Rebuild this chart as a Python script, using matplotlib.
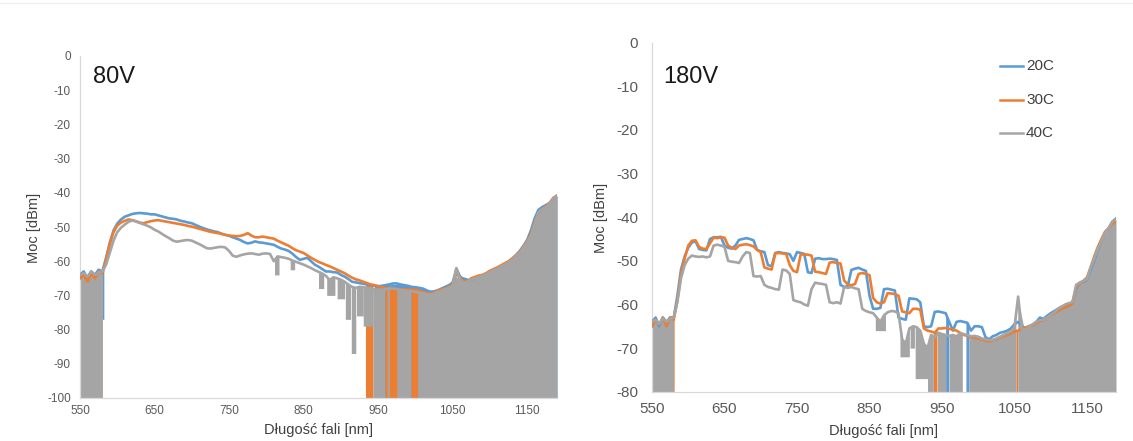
import numpy as np
import matplotlib
matplotlib.use("Agg")
import matplotlib.pyplot as plt
from matplotlib.lines import Line2D

plt.rcParams["font.family"] = ["Liberation Sans", "DejaVu Sans"]
plt.rcParams["axes.unicode_minus"] = False

# ---------------------------------------------------------------- data
# spectrometer sampling grid [nm]
wavelength = np.arange(550, 1191, 5)

temperatures = ["20C", "30C", "40C"]
colors = ["#5B9BD5", "#ED7D31", "#A5A5A5"]

# 80 V: power [dBm] per temperature
p80_20C = [
    -64, -63, -65, -63, -64, -62.5, -63, -59, -54.5, -51,            # 550-595
    -49, -47.8, -47, -46.6, -46.2, -46, -45.9, -46, -46.1, -46.3,    # 600-645
    -46.3, -46.6, -46.9, -47.2, -47.5, -47.6, -47.8, -48.2, -48.4, -48.7,
    -48.9, -49.4, -49.9, -50.3, -50.7, -51, -51.3, -51.5, -52, -52.3,
    -52.6, -53, -53.4, -53.8, -54.4, -54.8, -54.6, -54.2, -54.5, -54.6,
    -54.8, -55, -55.2, -55.8, -56.3, -56.6, -57, -57.8, -58.8, -59.6,
    -59.3, -59, -60, -61, -61.6, -62.3, -63, -63, -63.2, -63.3,
    -64, -64.5, -65.2, -66, -66.2, -66.4, -66.6, -66.8, -67, -67.2,
    -67.3, -67.2, -67, -66.8, -66.5, -66.5, -66.8, -67, -67.2, -67.5,
    -67.6, -67.8, -68, -68.5, -69, -68.8, -68.5, -68, -67.5, -67,
    -66.3, -62.2, -64.5, -65.5, -66, -65.4, -65, -64.6, -64.2, -63.6,
    -63, -62.4, -62, -61.5, -61, -60.3, -59.3, -58.2, -57, -55.5,
    -53.8, -51, -47.5, -45, -44.2, -43.6, -43, -41.8, -40.8,          # 1150-1190
]
p80_30C = [
    -65, -64, -66, -63.5, -65, -63, -63.5, -59.5, -55, -51.5,
    -49.6, -48.7, -48.2, -47.8, -48, -48.3, -48.7, -48.9, -48.6, -48.3,
    -48.1, -48, -48.2, -48.4, -48.6, -48.8, -49, -49.2, -49.4, -49.7,
    -49.9, -50.2, -50.5, -50.8, -51.1, -51.4, -51.6, -51.8, -52, -52.3,
    -52.5, -52.6, -52.7, -52.6, -52.3, -51.8, -52.5, -53, -53, -52.8,
    -53, -53.2, -53.4, -54, -54.5, -55, -55.5, -56.2, -56.8, -57.2,
    -57.6, -58.3, -59, -59.6, -60.2, -60.6, -61.1, -61.5, -62, -62.5,
    -63, -63.5, -64.2, -64.8, -65.3, -65.6, -66, -66.4, -66.8, -67,
    -67.3, -67.6, -67.8, -67.9, -68, -68.1, -68.2, -68.2, -68.3, -68.3,
    -68.4, -68.6, -69, -69.3, -69.5, -69.2, -68.6, -68.2, -68, -67.5,
    -66.8, -63.5, -65, -66, -65.8, -65, -64.6, -64.2, -64, -63.5,
    -62.8, -62.3, -61.8, -61.2, -60.6, -60, -59.2, -58.3, -57.2, -55.8,
    -54.2, -52, -48.5, -46, -44.8, -44, -43, -41.5, -40.8,
]
p80_40C = [
    -64, -63.5, -64.5, -63, -64, -63.3, -63, -61, -57.5, -54,
    -51.5, -50.2, -49.3, -48.5, -48.1, -48.4, -48.8, -49.2, -49.6, -50.1,
    -50.8, -51.3, -52, -52.7, -53.3, -54, -54.3, -54.1, -53.9, -53.8,
    -54, -54.5, -55, -55.6, -56.2, -56.3, -56.1, -55.9, -55.8, -56,
    -57, -58.4, -58.7, -58.3, -58, -57.8, -57.7, -57.9, -58.1, -57.8,
    -57.7, -57.9, -60, -58.6, -58.8, -59, -59.3, -59.8, -60.2, -60.6,
    -61, -61.5, -62, -62.6, -63.1, -63.6, -64.3, -65.5, -64.7, -65,
    -65.4, -66, -66.8, -67.5, -67.8, -67.5, -67.6, -67.8, -68, -68.2,
    -68.3, -68.3, -68.2, -68, -68, -68.2, -68.4, -68.5, -68.7, -68.8,
    -69, -69.2, -69.4, -69.6, -69.8, -69.5, -69, -68.6, -68.2, -67.8,
    -67.2, -62, -65.5, -66.3, -66, -65.4, -65, -64.6, -64.3, -63.8,
    -63.2, -62.6, -62.2, -61.6, -61, -60.4, -59.6, -58.5, -57.5, -56,
    -54.4, -52.5, -49, -45.8, -44.8, -44.2, -43.2, -41.8, -41,
]

# 180 V: power [dBm] per temperature
p180_20C = [
    -64, -63, -65, -63, -64, -63, -63, -58, -52, -49,
    -47, -45.8, -45.5, -47.3, -47.5, -47.6, -45, -44.6, -44.6, -44.5,
    -46.5, -47, -47.2, -46.5, -45.2, -45, -44.8, -45, -45.3, -47.5,
    -47.8, -48, -51, -51.2, -48.2, -48, -48.2, -48.3, -48.5, -50,
    -48, -48.2, -48.4, -52.6, -52.8, -49.5, -49.4, -49.6, -49.6, -49.5,
    -49.6, -49.8, -55.5, -56, -55.8, -52.1, -51.8, -51.6, -52, -52.3,
    -58, -61, -61, -60.8, -56.5, -56.4, -56.6, -56.8, -63, -63.3,
    -63.5, -58.6, -58.7, -58.8, -59.5, -65, -65.2, -65, -61.7, -61.6,
    -61.8, -62, -64, -66, -64, -63.8, -64, -64.2, -66, -65,
    -65, -65.2, -67.5, -68, -67.3, -67, -66.5, -66.3, -66, -65.5,
    -64.5, -64, -65, -65.5, -65, -64.6, -64, -63, -63.3, -62.6,
    -62, -61.5, -61, -60.5, -60.6, -60, -59.5, -56.5, -55, -54.8,
    -54.4, -52, -50, -47.5, -45.5, -43.5, -42.5, -41, -40.3,
]
p180_30C = [
    -65, -63.5, -64.5, -63, -65, -63, -63.5, -59, -53, -49.5,
    -46.5, -45.4, -45.3, -46.8, -47.2, -47.3, -46, -44.7, -44.8, -44.6,
    -44.7, -46.5, -47, -47.3, -46.5, -46.3, -46.2, -46.4, -46.7, -47.5,
    -48, -51.5, -51.8, -52, -48.3, -48.2, -48.3, -48.4, -51, -52.3,
    -52.6, -48.6, -48.5, -48.6, -48.8, -52.5, -52.6, -52.8, -53, -50.4,
    -50.3, -50.5, -50.6, -54.5, -55.4, -55.6, -55.3, -53, -52.8, -53,
    -53.3, -58.5, -59.5, -59.8, -59.5, -57.4, -57.5, -57.6, -58, -61.6,
    -61.8, -62, -61, -61, -61.2, -65.5, -66, -66.2, -66.5, -65.5,
    -65.5, -65.4, -65.6, -65.8, -66, -66.5, -67, -67.2, -67.5, -67.6,
    -67.8, -68, -68.3, -68.5, -68.2, -68, -67.6, -67.3, -67, -66.6,
    -66.2, -66, -65.5, -65.3, -65, -64.8, -64.3, -63.8, -63.6, -63,
    -62.5, -62, -61.5, -61, -60.7, -60.3, -59.8, -56, -55.2, -54.6,
    -53.8, -51.5, -49, -46.8, -45, -43.3, -42.5, -41.5, -41,
]
p180_40C = [
    -64, -63.5, -64.5, -63.2, -64, -63.3, -63, -59.5, -54, -51,
    -49.5, -48.8, -49, -49.1, -49, -49.2, -49, -46.5, -46.3, -46.5,
    -46.8, -50, -50.2, -50.3, -50.5, -49, -48, -48.2, -53.5, -53.6,
    -53.5, -55.5, -56, -56.2, -56.5, -56.6, -52, -52.2, -53, -59,
    -59.3, -59.5, -60, -60.3, -56.5, -55, -55.2, -55.3, -55.5, -59.5,
    -59.7, -59.5, -59.8, -56, -56.2, -56, -56.3, -56.5, -61, -61.5,
    -61.8, -62, -63, -64, -62.5, -61.8, -61.5, -61.6, -62, -68,
    -69, -65.5, -65, -65.2, -66, -69, -70, -67, -67.5, -66.5,
    -66.8, -67, -67.2, -67, -67.3, -66.6, -66.8, -67, -67.3, -67.2,
    -67.4, -67.8, -68, -68.2, -68.1, -67.8, -67.4, -67, -66.6, -66.2,
    -65.2, -58.2, -65.5, -65.8, -65.2, -64.6, -64, -63.6, -63.5, -63,
    -62.4, -61.8, -61, -60.5, -60, -59.7, -59.5, -55.5, -55, -54.6,
    -54.2, -51.5, -49.5, -47.2, -45.5, -43.5, -42.5, -41, -40.5,
]

# noisy stretches: (from nm, to nm, lowest level reached [dBm])
noise80_20C = [(550, 579.5, -100), (580, 582, -77), (945, 1190, -100)]
noise80_30C = [(550, 579.5, -100), (933, 943, -100), (959, 976, -100),
               (994, 1003, -100), (1059.5, 1060.5, -100)]
noise80_40C = [(550, 579.5, -100), (811, 817, -64), (832, 838, -62.5),
               (870, 877, -68), (881, 892, -70), (895, 905, -71),
               (906, 913, -77), (914, 920, -87), (921, 930, -76),
               (930, 943, -79), (943, 959, -100), (962, 965, -100),
               (975, 994, -100), (1003, 1190, -100)]

noise180_20C = [(550, 579.5, -80), (955, 959, -80), (983, 987, -80)]
noise180_30C = [(550, 580.5, -80), (938, 943, -80), (1052, 1054.5, -80)]
noise180_40C = [(550, 579.5, -80), (858, 872, -66), (892, 905, -72),
                (906, 912, -70), (913, 930, -77), (930, 938, -80),
                (943.5, 955, -80), (959.5, 978, -80),
                (987, 1052, -80), (1054.5, 1190, -80)]

panels = [
    dict(label="80V", series=[p80_20C, p80_30C, p80_40C],
         noise=[noise80_20C, noise80_30C, noise80_40C],
         ylim=(-100, 0), yticks=np.arange(-100, 1, 10)),
    dict(label="180V", series=[p180_20C, p180_30C, p180_40C],
         noise=[noise180_20C, noise180_30C, noise180_40C],
         ylim=(-80, 0), yticks=np.arange(-80, 1, 10)),
]
xticks = [550, 650, 750, 850, 950, 1050, 1150]

# ---------------------------------------------------------------- figure
W, H = 1133, 441
fig = plt.figure(figsize=(W / 100, H / 100), dpi=100)
fig.patch.set_facecolor("white")


def px_rect(x0, x1, ytop, ybot):
    return [x0 / W, 1 - ybot / H, (x1 - x0) / W, (ybot - ytop) / H]


axes_rects = [px_rect(80, 557, 56, 398), px_rect(652, 1116, 42.7, 391.7)]
tick_sizes = [8.5, 11]
tick_pads = [(5.2, 6.5), (7.5, 10)]
ylabel_pos = [(34, 228), (601, 218)]
xlabel_pos = [(318, 430), (884, 431)]
title_pos = [(93, 77), (663, 77)]

tick_color = "#595959"
spine_color = "#D9D9D9"

for i, panel in enumerate(panels):
    ax = fig.add_axes(axes_rects[i])
    for values, noise, color in zip(panel["series"], panel["noise"], colors):
        top = np.asarray(values, dtype=float)
        for a, b, depth in noise:
            xs = np.linspace(a, b, 16)
            ax.fill_between(xs, depth, np.interp(xs, wavelength, top),
                            color=color, lw=0, zorder=2)
        ax.plot(wavelength, top, color=color, lw=1.9, zorder=3,
                solid_joinstyle="round")

    ax.set_xlim(550, 1190)
    ax.set_ylim(*panel["ylim"])
    ax.set_xticks(xticks)
    ax.set_yticks(panel["yticks"])
    ax.tick_params(axis="both", length=0, labelsize=tick_sizes[i],
                   labelcolor=tick_color)
    ax.tick_params(axis="x", pad=tick_pads[i][0])
    ax.tick_params(axis="y", pad=tick_pads[i][1])
    for side in ("top", "right"):
        ax.spines[side].set_visible(False)
    for side in ("left", "bottom"):
        ax.spines[side].set_color(spine_color)
        ax.spines[side].set_linewidth(0.9)

    fig.text(ylabel_pos[i][0] / W, 1 - ylabel_pos[i][1] / H, "Moc [dBm]",
             rotation=90, ha="center", va="center", fontsize=10.5,
             color="#404040")
    fig.text(xlabel_pos[i][0] / W, 1 - xlabel_pos[i][1] / H,
             "Długość fali [nm]", ha="center", va="center", fontsize=10.5,
             color="#404040")
    fig.text(title_pos[i][0] / W, 1 - title_pos[i][1] / H, panel["label"],
             ha="left", va="center", fontsize=17, color="#1a1a1a")

# legend of the 180 V panel
legend_rows = [66, 100, 133]
for name, color, y in zip(temperatures, colors, legend_rows):
    fig.add_artist(Line2D([1000 / W, 1023 / W], [1 - y / H, 1 - y / H],
                          color=color, lw=1.8))
    fig.text(1026 / W, 1 - y / H, name, ha="left", va="center",
             fontsize=11, color="#404040")

# thin border line along the top edge
fig.add_artist(Line2D([0, 1], [1 - 3 / H, 1 - 3 / H], color="#EEEEEE", lw=0.8))

fig.savefig("out.png", dpi=100, facecolor="white")
